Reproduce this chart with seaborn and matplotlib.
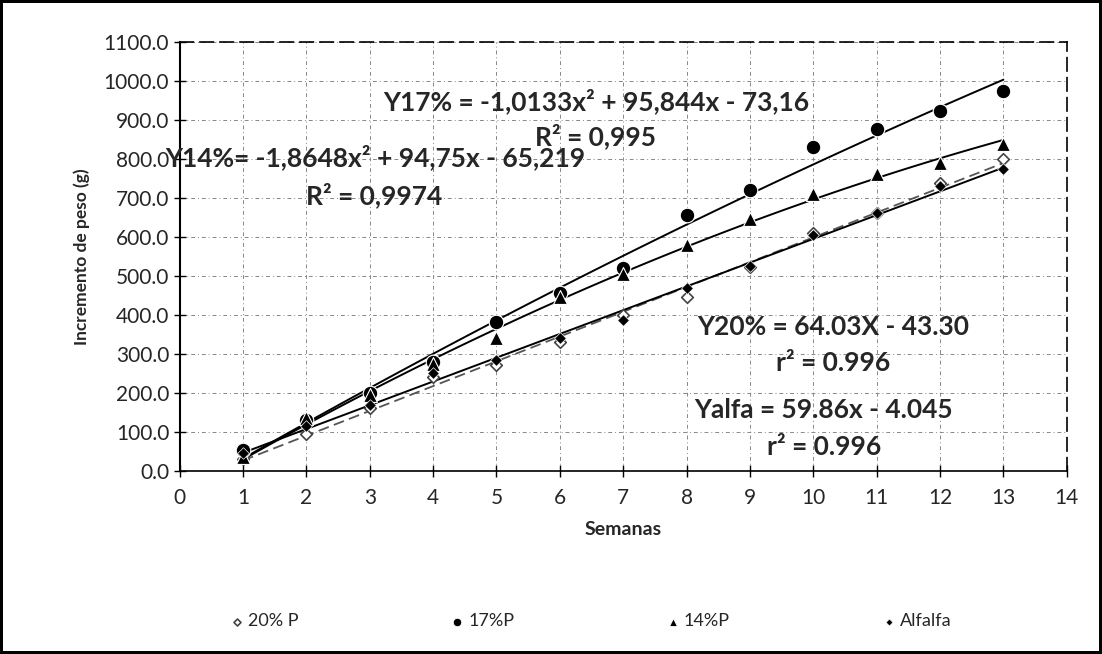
import numpy as np
import pandas as pd
import seaborn as sns
import matplotlib.pyplot as plt

# Datos
semanas = [1, 2, 3, 4, 5, 6, 7, 8, 9, 10, 11, 12, 13]
p20 = [30, 95, 160, 240, 272, 330, 400, 445, 522, 611, 662, 737, 800]
p17 = [54, 130, 199, 279, 381, 455, 519, 655, 719, 831, 877, 923, 974]
p14 = [35, 135, 195, 275, 340, 445, 506, 578, 647, 711, 762, 790, 839]
alfalfa = [45, 115, 170, 250, 285, 340, 386, 470, 525, 605, 660, 730, 775]

series = ['20% P', '17%P', '14%P', 'Alfalfa']
valores = [p20, p17, p14, alfalfa]
orden = [1, 2, 2, 1]

ecuaciones = [
    ('Y17% = -1,0133x² + 95,844x - 73,16', 6.57, 949),
    ('R² = 0,995', 6.57, 859),
    ('Y14%= -1,8648x² + 94,75x - 65,219', 3.09, 803),
    ('R² = 0,9974', 3.07, 706),
    ('Y20% = 64.03X - 43.30', 10.31, 368),
    ('r² = 0.996', 10.31, 276),
    ('Yalfa = 59.86x - 4.045', 10.16, 156),
    ('r² = 0.996', 10.17, 61),
]

sns.set_style('white')
plt.rcParams['font.family'] = ['Lato', 'DejaVu Sans']

fig = plt.figure(figsize=(11.02, 6.54), dpi=100)
ax = fig.add_axes([0.163, 0.28, 0.805, 0.656])

marcadores = {
    '20% P': dict(marker='D', s=35, facecolor='white', edgecolor='#444444', linewidth=1.2),
    '17%P': dict(marker='o', s=110, color='black'),
    '14%P': dict(marker='^', s=100, color='black'),
    'Alfalfa': dict(marker='D', s=35, color='black'),
}
lineas = {
    '20% P': dict(color='#555555', linestyle=(0, (6, 3)), linewidth=1.3),
    '17%P': dict(color='black', linewidth=1.4),
    '14%P': dict(color='black', linewidth=1.4),
    'Alfalfa': dict(color='black', linewidth=1.4),
}

for nombre, vals, o in zip(series, valores, orden):
    df = pd.DataFrame({'Semanas': semanas, 'peso': vals})
    sns.regplot(data=df, x='Semanas', y='peso', order=o, ci=None, scatter=False,
                truncate=True, line_kws=lineas[nombre], ax=ax)
    sns.scatterplot(data=df, x='Semanas', y='peso', label=nombre, ax=ax,
                    zorder=3, **marcadores[nombre])

ax.set_xlim(0, 14)
ax.set_ylim(0, 1100)
ax.set_xticks(range(0, 15))
ax.set_yticks(range(0, 1101, 100))
ax.set_yticklabels([f'{v:.1f}' for v in range(0, 1101, 100)])
ax.tick_params(axis='both', labelsize=15, direction='inout', length=8, width=1,
               color='black', bottom=True, left=True)
ax.tick_params(axis='x', pad=8)
ax.grid(True, color='#888888', linestyle=(0, (4, 3, 1, 3)), linewidth=0.7)

ax.spines['left'].set_color('black')
ax.spines['left'].set_linewidth(1.5)
ax.spines['bottom'].set_color('black')
ax.spines['bottom'].set_linewidth(1.2)
for lado in ['top', 'right']:
    ax.spines[lado].set_color('black')
    ax.spines[lado].set_linestyle((0, (8, 4)))
    ax.spines[lado].set_linewidth(1.2)

ax.set_xlabel('Semanas', fontsize=14, fontweight='bold', labelpad=10)
ax.set_ylabel('Incremento de peso (g)', fontsize=12.5, fontweight='bold', labelpad=10)

for texto, x, y in ecuaciones:
    ax.text(x, y, texto, ha='center', va='center', fontsize=19, fontweight='bold')

ax.get_legend().remove()
handles, labels = ax.get_legend_handles_labels()
fig.legend(handles, labels, loc='center', bbox_to_anchor=(0.535, 0.05), ncol=4,
           frameon=False, fontsize=13, columnspacing=8.3, handletextpad=0.1,
           handlelength=1.0, markerscale=0.6)

fig.patch.set_edgecolor('black')
fig.patch.set_linewidth(3)

plt.savefig('out.png', dpi=100, edgecolor=fig.get_edgecolor())
plt.close()
